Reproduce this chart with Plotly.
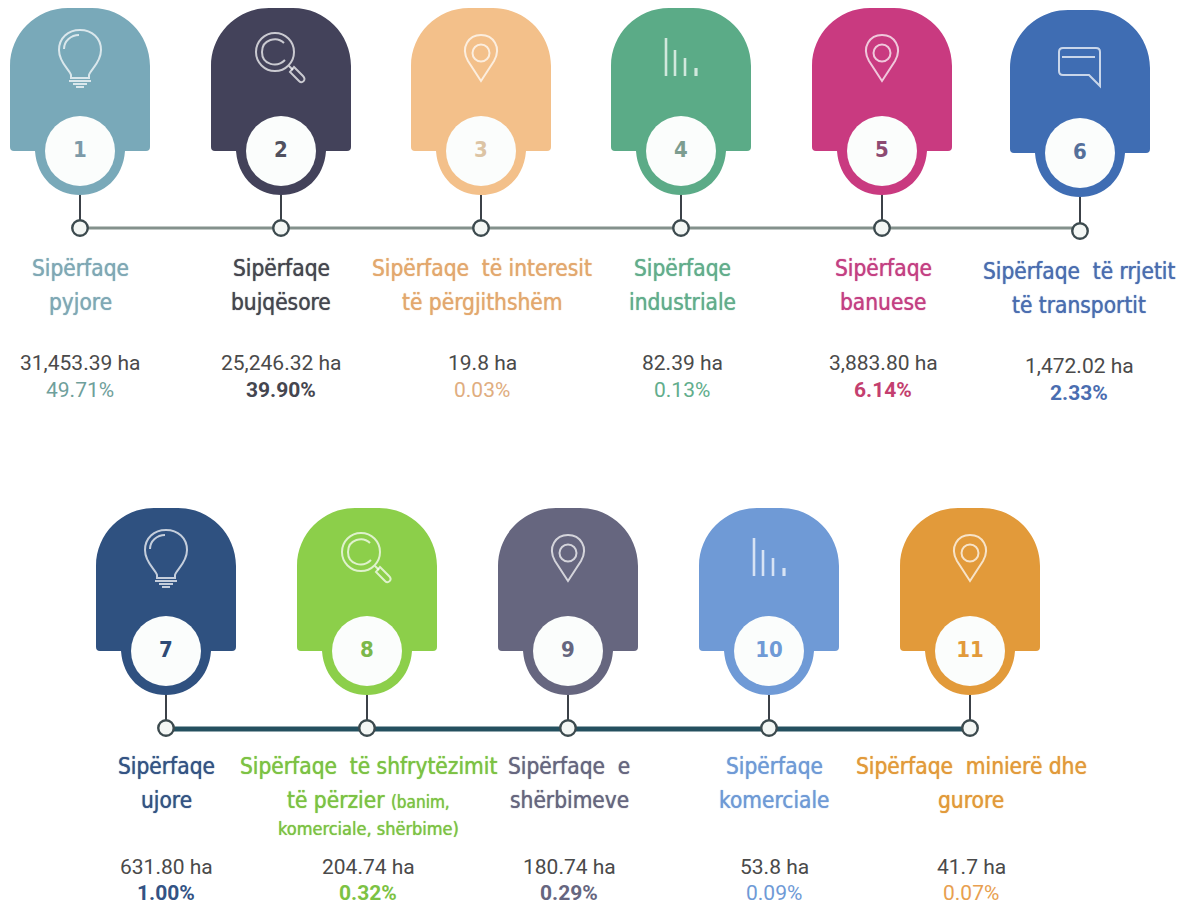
import plotly.graph_objects as go

# ---- data ----
numbers = ["1", "2", "3", "4", "5", "6", "7", "8", "9", "10", "11"]
title_line1 = ["Sipërfaqe", "Sipërfaqe", "Sipërfaqe  të interesit", "Sipërfaqe", "Sipërfaqe",
               "Sipërfaqe  të rrjetit", "Sipërfaqe", "Sipërfaqe  të shfrytëzimit", "Sipërfaqe  e",
               "Sipërfaqe", "Sipërfaqe  minierë dhe"]
title_line2 = ["pyjore", "bujqësore", "të përgjithshëm", "industriale", "banuese",
               "të transportit", "ujore", "të përzier", "shërbimeve", "komerciale", "gurore"]
areas = ["31,453.39 ha", "25,246.32 ha", "19.8 ha", "82.39 ha", "3,883.80 ha", "1,472.02 ha",
         "631.80 ha", "204.74 ha", "180.74 ha", "53.8 ha", "41.7 ha"]
shares = ["49.71%", "39.90%", "0.03%", "0.13%", "6.14%", "2.33%",
          "1.00%", "0.32%", "0.29%", "0.09%", "0.07%"]
colors = ["#79a9b9", "#43425a", "#f3c08a", "#5bab87", "#c93a80", "#3f6db3",
          "#2f5180", "#8ccf4a", "#66667f", "#6f9ad6", "#e29a3a"]
text_colors = ["#7fa8b5", "#45464f", "#e3a86e", "#62ad8c", "#c43f83", "#4a6db0",
               "#335384", "#7cc243", "#66667f", "#6f9ad6", "#e29a3a"]
share_colors = ["#6fa09b", "#45464f", "#e0ad80", "#62ad8c", "#c43f6f", "#4a6db0",
                "#335384", "#7cc243", "#66667f", "#6f9ad6", "#e8a050"]
digit_colors = ["#7d9aa8", "#50505e", "#dcc4a4", "#7d9d90", "#8d4a72", "#55709a",
                "#2f4a75", "#7cb84a", "#66667f", "#6f9ad6", "#e29a3a"]
icons = ["bulb", "lens", "pin", "bars", "pin", "chat", "bulb", "lens", "pin", "bars", "pin"]
sub_note = ["(banim,", "komerciale, shërbime)"]

# ---- layout constants ----
card_x = [80, 281, 481, 681, 882, 1080, 166, 367, 568, 769, 970]
card_dy = [0, 0, 0, 0, 0, 2, 500, 500, 500, 500, 500]
title_x = [80, 281, 482, 682, 883, 1079, 166, 368, 569, 774, 971]
title_dy = [0, 0, 0, 0, 0, 3, 498, 498, 498, 498, 498]
K = 0.5523


def circle(cx, cy, r):
    a = K * r
    return (f"M{cx-r},{cy} C{cx-r},{cy-a} {cx-a},{cy-r} {cx},{cy-r} "
            f"C{cx+a},{cy-r} {cx+r},{cy-a} {cx+r},{cy} "
            f"C{cx+r},{cy+a} {cx+a},{cy+r} {cx},{cy+r} "
            f"C{cx-a},{cy+r} {cx-r},{cy+a} {cx-r},{cy} Z")


def card(cx, dy):
    l, r, t, b = cx - 70, cx + 70, 8 + dy, 151 + dy
    R = 58
    cr = 4
    k = R * (1 - K)
    return (f"M{l},{t+R} C{l},{t+k} {l+k},{t} {l+R},{t} L{r-R},{t} "
            f"C{r-k},{t} {r},{t+k} {r},{t+R} L{r},{b-cr} Q{r},{b} {r-cr},{b} L{cx+45},{b} "
            f"C{cx+43},{b+27} {cx+24},{b+44} {cx},{b+44} C{cx-24},{b+44} {cx-43},{b+27} {cx-45},{b} "
            f"L{l+cr},{b} Q{l},{b} {l},{b-cr} Z")


def icon(kind, cx, dy):
    out = []
    if kind == "bulb":
        y = 50 + dy
        out.append(f"M{cx-9},{y+28} L{cx-9},{y+25} C{cx-10},{y+20} {cx-21},{y+13} {cx-21},{y} "
                   f"C{cx-21},{y-12} {cx-12},{y-20} {cx},{y-20} C{cx+12},{y-20} {cx+21},{y-12} {cx+21},{y} "
                   f"C{cx+21},{y+13} {cx+10},{y+20} {cx+9},{y+25} L{cx+9},{y+28} Z")
        out.append(f"M{cx-11},{y+31} L{cx+11},{y+31} M{cx-7},{y+34} L{cx+7},{y+34} M{cx-4},{y+37} L{cx+4},{y+37}")
        out.append(f"M{cx-16},{y-1} C{cx-16},{y-9} {cx-9},{y-15} {cx-1},{y-15}")
    elif kind == "lens":
        y = 52 + dy
        c = cx - 6
        out.append(circle(c, y, 19))
        out.append(f"M{c+9},{y-9} C{c+2},{y-16} {c-13},{y-13} {c-13},{y} "
                   f"C{c-13},{y+13} {c+2},{y+16} {c+10},{y+8}")
        out.append(f"M{c+14},{y+14} L{c+18},{y+18}")
        out.append(f"M{c+19},{y+15} L{c+28},{y+24} C{c+32},{y+28} {c+27},{y+32} {c+24},{y+29} L{c+15},{y+20} Z")
    elif kind == "pin":
        y = 53 + dy
        out.append(f"M{cx},{y+28} L{cx-13},{y+8} C{cx-21},{y-6} {cx-12},{y-18} {cx},{y-18} "
                   f"C{cx+12},{y-18} {cx+21},{y-6} {cx+13},{y+8} Z")
        out.append(circle(cx, y, 8.5))
    elif kind == "bars":
        y = 76 + dy
        for dx, h, w in zip((-15, -6, 4, 15), (38, 26, 18, 8), (2.6, 2.6, 2.6, 3.2)):
            out.append((f"M{cx+dx},{y} L{cx+dx},{y-h}", w))
    elif kind == "chat":
        y = 62 + dy
        l, r, t, b = cx - 21, cx + 20, y - 16, y + 11
        out.append(f"M{l+4},{t} L{r-4},{t} Q{r},{t} {r},{t+4} L{r},{b+11} L{r-11},{b} L{l+4},{b} "
                   f"Q{l},{b} {l},{b-4} L{l},{t+4} Q{l},{t} {l+4},{t} Z")
        out.append(f"M{l+3},{t+9} L{r-5},{t+9}")
    return out


shapes = []
line = dict(type="path", xref="x", yref="y", layer="below")
node_y = [228 + (d if d != 2 else 3) for d in card_dy]

# stems and connector lines
shapes.append(dict(type="line", xref="x", yref="y", layer="below", x0=card_x[0], x1=card_x[5], y0=228, y1=228,
                   line=dict(color="#84918c", width=3)))
shapes.append(dict(type="line", xref="x", yref="y", layer="below", x0=card_x[6], x1=card_x[10], y0=729, y1=729,
                   line=dict(color="#24505f", width=5)))
for cx, dy, c, ny in zip(card_x, card_dy, colors, node_y):
    shapes.append(dict(type="line", xref="x", yref="y", layer="below", x0=cx, x1=cx, y0=190 + dy, y1=ny,
                       line=dict(color="#3c4148", width=2)))
    shapes.append(dict(line, path=card(cx, dy), fillcolor=c, line=dict(width=0)))
for cx, dy, k in zip(card_x, card_dy, icons):
    for p in icon(k, cx, dy):
        path, w = p if isinstance(p, tuple) else (p, 2)
        shapes.append(dict(line, path=path, fillcolor="rgba(0,0,0,0)",
                           line=dict(color="rgba(255,255,255,0.72)", width=w)))

fig = go.Figure()

# timeline nodes
fig.add_trace(go.Scatter(
    x=card_x, y=node_y, mode="markers", hoverinfo="skip",
    marker=dict(size=15.5, color="#f4f7f5", line=dict(color="#3c4a4e", width=2.4))))

NARROW = "DejaVu Sans Condensed, Lato"

# number discs
fig.add_trace(go.Scatter(
    x=card_x, y=[151 + d for d in card_dy], mode="markers+text", hoverinfo="skip",
    text=[f"<b>{n}</b>" for n in numbers], textposition="middle center",
    textfont=dict(family=NARROW, size=22, color=digit_colors),
    marker=dict(size=70, color="#fbfdfc", line=dict(width=0))))

ann = []
def add(x, y, text, color, size, family, shadow="none"):
    ann.append(dict(x=x, y=y, xref="x", yref="y", text=text, showarrow=False, xanchor="center", yanchor="middle",
                    font=dict(family=family, size=size, color=color, shadow=shadow)))

for i in range(len(numbers)):
    x, d = title_x[i], title_dy[i]
    thick = f"0 0 1px {text_colors[i]}"
    add(x, 268 + d, title_line1[i], text_colors[i], 22.5, NARROW, thick)
    l2 = title_line2[i]
    if i == 7:
        l2 += f' <span style="font-size:17px">{sub_note[0]}</span>'
        add(x, 828, sub_note[1], text_colors[i], 18, NARROW, thick)
    add(x, 302 + d, l2, text_colors[i], 22.5, NARROW, thick)
    add(x, 363 + d + (6 if i >= 6 else 0), areas[i], "#4a4a4a", 21, "Roboto")
    add(x, 390 + d + (5 if i >= 6 else 0), f"<b>{shares[i]}</b>" if i in (1, 4, 5, 6, 7, 8) else shares[i],
        share_colors[i], 21, "Roboto")

fig.update_layout(
    width=1182, height=902, margin=dict(l=0, r=0, t=0, b=0), showlegend=False,
    paper_bgcolor="white", plot_bgcolor="white", shapes=shapes, annotations=ann,
    xaxis=dict(range=[0, 1182], visible=False, fixedrange=True),
    yaxis=dict(range=[902, 0], visible=False, fixedrange=True),
)
fig.write_html("out.html", config=dict(displayModeBar=False),
               post_script="document.body.style.margin='0';document.body.style.overflow='hidden';")
